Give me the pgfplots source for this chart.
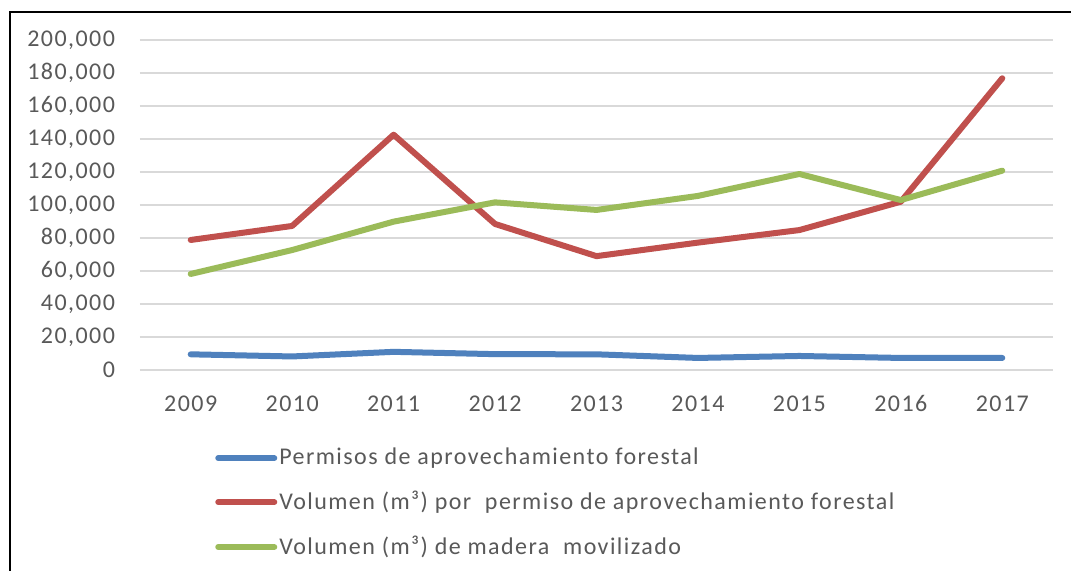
\documentclass[border=0pt]{standalone}
\usepackage{pgfplots}
\pgfplotsset{compat=1.18}
\usepackage{fontspec}
\setmainfont{Carlito}
\newfontfamily\legfont[LetterSpace=6]{Carlito}
\definecolor{cblue}{HTML}{4F81BD}
\definecolor{cred}{HTML}{C0504D}
\definecolor{cgreen}{HTML}{9BBB59}
\definecolor{ctext}{HTML}{595959}
\definecolor{cgrid}{HTML}{D9D9D9}
\begin{document}
\begin{tikzpicture}
\path[use as bounding box] (0pt,0pt) rectangle (535.5pt,285.5pt);
\fill[white] (0pt,0pt) rectangle (535.5pt,285.5pt);
\draw[black, line width=1pt] (4.75pt,0pt) -- (4.75pt,279.25pt) -- (535.5pt,279.25pt);
\begin{axis}[
  at={(70pt,100.5pt)}, anchor=south west,
  scale only axis, width=456.5pt, height=165pt,
  xmin=-0.5, xmax=8.5, ymin=0, ymax=200000,
  xtick={0,...,8},
  xticklabels={2009,2010,2011,2012,2013,2014,2015,2016,2017},
  ytick={0,20000,...,200000},
  scaled y ticks=false,
  /pgf/number format/fixed,
  /pgf/number format/1000 sep={,},
  /pgf/number format/assume math mode=true,
  ticklabel style={font=\legfont\fontsize{12}{14}\selectfont, text=ctext},
  xticklabel style={yshift=-9pt, text height=8pt, text depth=0pt},
  yticklabel style={xshift=-9pt},
  axis line style={draw=none},
  major tick style={draw=none},
  ymajorgrids, grid style={cgrid, line width=0.8pt},
  legend style={draw=none, fill=none, at={(0.082,-0.23)}, anchor=north west,
    font=\legfont\fontsize{12}{14}\selectfont, text=ctext,
    row sep=9.7pt, inner sep=0pt, nodes={inner sep=1pt}},
  legend cell align=left,
  legend image code/.code={\draw[#1, line width=3pt, line cap=round] (0cm,0cm) -- (28pt,0cm);},
  every axis plot/.append style={line width=3pt, line cap=round, line join=round},
]
\addplot[cblue] coordinates {(0,9500) (1,8200) (2,11000) (3,9600) (4,9500) (5,7300) (6,8500) (7,7300) (8,7300)};
\addplot[cred] coordinates {(0,78800) (1,87300) (2,142600) (3,88500) (4,69000) (5,77200) (6,84800) (7,102000) (8,176800)};
\addplot[cgreen] coordinates {(0,58200) (1,72700) (2,89900) (3,101600) (4,97000) (5,105500) (6,118800) (7,103000) (8,120800)};
\legend{Permisos de aprovechamiento forestal, Volumen (m³) por\ \ permiso de aprovechamiento forestal, Volumen (m³) de madera\ \ movilizado}
\end{axis}
\end{tikzpicture}
\end{document}
